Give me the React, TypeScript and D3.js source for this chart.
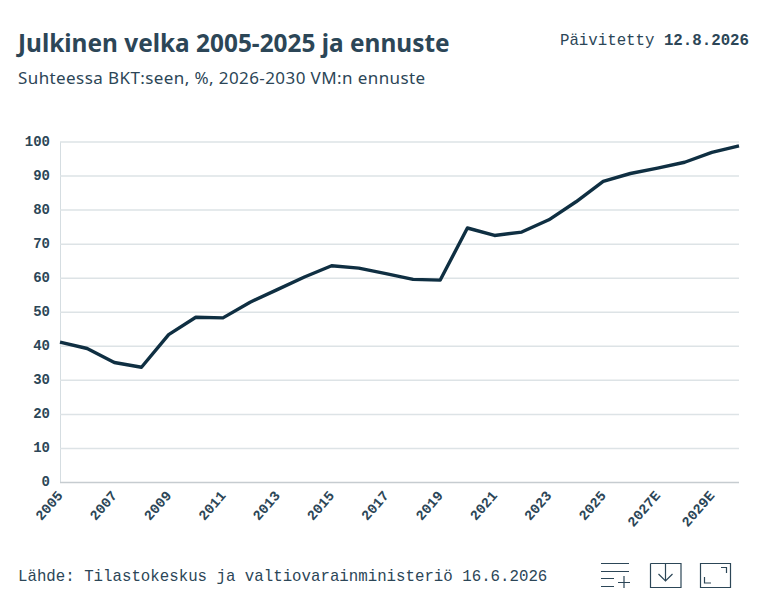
import React, { useEffect, useRef } from 'react';
import * as d3 from 'd3';

const years = ['2005','2006','2007','2008','2009','2010','2011','2012','2013','2014','2015','2016','2017','2018','2019','2020','2021','2022','2023','2024','2025','2026E','2027E','2028E','2029E','2030E'];
const debt = [41.1,39.2,35.1,33.7,43.3,48.4,48.2,52.8,56.5,60.2,63.5,62.8,61.2,59.5,59.3,74.6,72.4,73.4,77.0,82.3,88.3,90.6,92.2,93.9,96.8,98.7];
const yTicks = [0,10,20,30,40,50,60,70,80,90,100];

const TEXT = '#2c4657';
const SANS = '"Noto Sans", "Open Sans", sans-serif';
const MONO = '"Liberation Mono", monospace';

export default function App() {
  const axisRef = useRef<SVGGElement>(null);

  const x = d3.scalePoint<string>().domain(years).range([60, 739]);
  const y = d3.scaleLinear().domain([0, 100]).range([482, 141.5]);

  useEffect(() => {
    if (!axisRef.current) return;
    const g = d3.select(axisRef.current);
    g.selectAll('*').remove();

    // y axis + grid
    const yAxis = g.append('g')
      .attr('transform', 'translate(60,0)')
      .call(d3.axisLeft(y).tickValues(yTicks).tickSize(0).tickPadding(10));
    yAxis.select('.domain').attr('stroke', '#d5dde1').attr('stroke-width', 1);
    yAxis.selectAll('text')
      .attr('font-family', MONO).attr('font-size', 14).attr('font-weight', 700)
      .attr('fill', TEXT)
      .attr('dy', '0.26em');
    yAxis.selectAll('.tick line')
      .attr('x2', 679)
      .attr('stroke', (d: any) => (d === 0 ? '#c6ccd0' : '#dde3e6'))
      .attr('stroke-width', (d: any) => (d === 0 ? 1.6 : 1.5));

    // x axis, every second label
    const xAxis = g.append('g')
      .attr('transform', 'translate(0,482)')
      .call(d3.axisBottom(x).tickValues(years.filter((_, i) => i % 2 === 0)).tickSize(0));
    xAxis.select('.domain').remove();
    xAxis.selectAll('text')
      .attr('font-family', MONO).attr('font-size', 14).attr('font-weight', 700)
      .attr('fill', TEXT)
      .attr('text-anchor', 'end')
      .attr('dy', 0)
      .attr('y', 0)
      .attr('transform', 'translate(3,14) rotate(-49)');
  }, []);

  const line = d3.line<number>()
    .x((_, i) => x(years[i]) as number)
    .y((d) => y(d));

  return (
    <svg width={775} height={597} style={{ position: 'absolute', left: 0, top: 0, background: '#fff' }}>
      <text x={18} y={52} fontFamily={SANS} fontSize={24.4} fontWeight={700} fill={TEXT}>Julkinen velka 2005-2025 ja ennuste</text>
      <text x={18} y={84} fontFamily={SANS} fontSize={17} letterSpacing={0.41} fill={TEXT}>Suhteessa BKT:seen, %, 2026-2030 VM:n ennuste</text>
      <text x={749} y={45} textAnchor="end" fontFamily={MONO} fontSize={15.75} fill={TEXT}>Päivitetty <tspan fontWeight={700}>12.8.2026</tspan></text>

      <g ref={axisRef} />
      <path d={line(debt) as string} fill="none" stroke="#0f2f42" strokeWidth={3.4} strokeLinejoin="round" />

      <text x={18} y={581} fontFamily={MONO} fontSize={15.75} fill={TEXT}>Lähde: Tilastokeskus ja valtiovarainministeriö 16.6.2026</text>

      {/* toolbar icons */}
      <g fill="none" stroke={TEXT} strokeWidth={1.2}>
        <path d="M601 563.5H629M601 571.5H629M601 578.5H614M601 586.5H614M618 582.5H630M624 576V588" />
        <path d="M650.5 563.5V587.5H681V563.5H650.5M665.5 563.5V581M658.5 574L665.5 581L672.5 574" />
        <path d="M700.5 563.5H730.5V587.5H700.5ZM721 567.5H726.5V573M704.5 577V583H711" />
      </g>
    </svg>
  );
}
